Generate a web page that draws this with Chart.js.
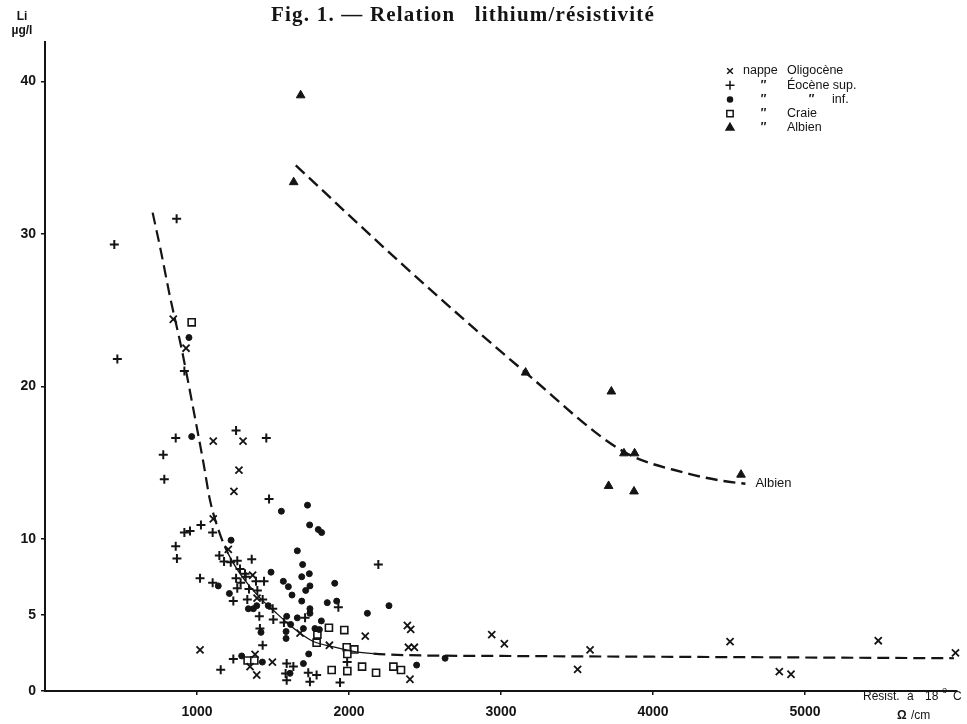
<!DOCTYPE html>
<html>
<head>
<meta charset="utf-8">
<script src="https://cdn.jsdelivr.net/npm/chart.js@4.4.1/dist/chart.umd.min.js"></script>
<style>
  html, body { margin: 0; padding: 0; background: #fff; }
  #wrap { width: 967px; height: 724px; }
</style>
</head>
<body>
<div id="wrap"><canvas id="chart" width="967" height="724"></canvas></div>
<script>
// values: [resistivity (ohm/cm), Li (µg/l)]
const oligocene = [
  [844, 24.4], [928, 22.5], [1107, 16.4], [1303, 16.4], [1276, 14.5], [1243, 13.1],
  [1107, 11.3], [1206, 9.3], [1366, 7.6], [1395, 6.1], [1678, 3.8], [1871, 3.0],
  [2107, 3.6], [1020, 2.7], [1382, 2.4], [1496, 1.9], [1349, 1.6], [1393, 1.05],
  [2384, 4.3], [2406, 4.05], [2391, 2.87], [2430, 2.87], [2401, 0.77], [2939, 3.7],
  [3022, 3.1], [3586, 2.7], [3504, 1.42], [4507, 3.24], [5482, 3.3], [4831, 1.27],
  [4908, 1.1], [5990, 2.5]
];
const eoceneSup = [
  [866, 31.0], [456, 29.3], [476, 21.8], [917, 21.0], [860, 16.6], [1257, 17.1],
  [1456, 16.6], [778, 15.5], [785, 13.9], [1474, 12.6], [917, 10.4], [954, 10.5],
  [1026, 10.9], [1103, 10.4], [860, 9.5], [868, 8.7], [1360, 8.65], [1147, 8.9],
  [1178, 8.5], [1222, 8.45], [1265, 8.55], [1283, 8.0], [1316, 7.7], [2193, 8.3],
  [1020, 7.4], [1103, 7.1], [1257, 7.4], [1287, 7.1], [1265, 6.75], [1320, 7.5],
  [1388, 7.2], [1441, 7.2], [1342, 6.7], [1397, 6.6], [1239, 5.9], [1331, 6.0],
  [1432, 6.0], [1930, 5.5], [1498, 5.4], [1410, 4.9], [1502, 4.7], [1572, 4.5],
  [1711, 4.8], [1414, 4.1], [1432, 3.0], [1239, 2.1], [1156, 1.4], [1590, 1.8],
  [1634, 1.6], [1583, 1.15], [1590, 0.7], [1732, 1.2], [1787, 1.05], [1743, 0.6],
  [1941, 0.55], [1988, 1.9]
];
const eoceneInf = [
  [947, 23.2], [965, 16.7], [1555, 11.8], [1727, 12.2], [1741, 10.9], [1798, 10.6],
  [1820, 10.4], [1224, 9.9], [1660, 9.2], [1695, 8.3], [1487, 7.8], [1739, 7.7],
  [1689, 7.5], [1140, 6.9], [1568, 7.2], [1601, 6.85], [1625, 6.3], [1743, 6.9],
  [1715, 6.6], [1213, 6.4], [1906, 7.07], [1689, 5.9], [1857, 5.8], [1919, 5.9],
  [1338, 5.4], [1371, 5.4], [1393, 5.6], [1469, 5.6], [1743, 5.4], [1743, 5.1],
  [2121, 5.1], [2263, 5.6], [1590, 4.9], [1660, 4.8], [1818, 4.6], [1616, 4.37],
  [1421, 3.85], [1586, 3.9], [1586, 3.45], [1700, 4.1], [1776, 4.1], [1805, 4.03],
  [1735, 2.43], [1294, 2.3], [1430, 1.9], [1700, 1.8], [1612, 1.16], [2445, 1.7],
  [2632, 2.15]
];
const craie = [
  [965, 24.2], [1868, 4.15], [1969, 4.0], [1792, 3.7], [1787, 3.17], [1985, 2.87],
  [2035, 2.73], [1989, 2.43], [1333, 2.0], [1377, 2.0], [1886, 1.38], [1989, 1.31],
  [2086, 1.6], [2178, 1.2], [2292, 1.6], [2342, 1.38]
];
const albien = [
  [1682, 39.1], [1636, 33.4], [3162, 20.9], [3726, 19.66], [3809, 15.6], [3879, 15.6],
  [3708, 13.46], [3875, 13.1], [4579, 14.2]
];
// hand-drawn trend curves
const curveLow = [
  [708, 31.4], [760, 29.0], [822, 25.9], [900, 22.4], [976, 18.5], [1042, 15.0],
  [1086, 12.5], [1151, 10.3], [1206, 9.0], [1283, 7.7], [1349, 6.85], [1425, 6.0],
  [1502, 5.3], [1590, 4.5], [1678, 3.8], [1765, 3.25], [1897, 2.9], [2029, 2.6],
  [2160, 2.45], [2400, 2.35], [3000, 2.3], [4000, 2.25], [5000, 2.2], [5980, 2.15]
];
const curveAlbien = [
  [1650, 34.5], [2340, 28.1], [3162, 20.9], [3809, 15.7], [4220, 14.3], [4454, 13.8],
  [4608, 13.6]
];
const xTicks = [1000, 2000, 3000, 4000, 5000];
const yTicks = [0, 5, 10, 20, 30, 40];

const ink = '#141414';
const sans = '"Liberation Sans", Arial, sans-serif';
const toXY = pts => pts.map(([x, y]) => ({ x, y }));

const legendRows = [
  { style: 'crossRot', radius: 4, texts: [['nappe', 743], ['Oligocène', 787]] },
  { style: 'cross', radius: 4.5, texts: [['\u2033', 760], ['Éocène sup.', 787]] },
  { style: 'circle', radius: 2.5, texts: [['\u2033', 760], ['\u2033', 808], ['inf.', 832]] },
  { style: 'rect', radius: 4.5, texts: [['\u2033', 760], ['Craie', 787]] },
  { style: 'triangle', radius: 4.5, texts: [['\u2033', 760], ['Albien', 787]] },
];

const textPlugin = {
  id: 'figureText',
  afterDraw(chart) {
    const { ctx } = chart;
    const { x, y } = chart.scales;
    ctx.save();
    ctx.fillStyle = ink;
    ctx.strokeStyle = ink;
    ctx.textBaseline = 'middle';

    ctx.font = 'bold 21px "Liberation Serif", serif';
    ctx.textAlign = 'center';
    ctx.letterSpacing = '1.2px';
    ctx.fillText('Fig. 1. \u2014 Relation   lithium/résistivité', 463, 16);
    ctx.letterSpacing = '0px';

    ctx.font = `bold 12px ${sans}`;
    ctx.fillText('Li', 22, 17);
    ctx.fillText('\u00b5g/l', 22, 31);

    ctx.textAlign = 'left';
    ctx.font = `12px ${sans}`;
    ctx.fillText('Résist.', 863, 697);
    ctx.fillText('à', 907, 697);
    ctx.fillText('18', 925, 697);
    ctx.fillText('C', 953, 697);
    ctx.font = `9px ${sans}`;
    ctx.fillText('o', 942, 691);
    ctx.font = `bold 12px ${sans}`;
    ctx.fillText('\u03a9', 897, 716);
    ctx.font = `12px ${sans}`;
    ctx.fillText('/cm', 911, 716);

    // Albien curve label
    ctx.font = `13px ${sans}`;
    ctx.fillText('Albien', x.getPixelForValue(4608) + 10, y.getPixelForValue(13.6));

    // legend
    legendRows.forEach((row, i) => {
      const ly = 71 + i * 14.2;
      ctx.lineWidth = 1.5;
      ctx.fillStyle = row.style === 'rect' ? '#fff' : ink;
      Chart.helpers.drawPoint(ctx, { pointStyle: row.style, radius: row.radius, rotation: 0, borderWidth: 1.5 }, 730, ly);
      ctx.fillStyle = ink;
      row.texts.forEach(([t, tx]) => {
        ctx.font = t === '\u2033' ? `bold italic 12px ${sans}` : `12.5px ${sans}`;
        ctx.fillText(t, tx, ly);
      });
    });
    ctx.restore();
  }
};

const pointSet = (data, style, radius, fill, bw) => ({
  type: 'scatter',
  data: toXY(data),
  pointStyle: style,
  pointRadius: radius,
  pointBackgroundColor: fill,
  pointBorderColor: ink,
  pointBorderWidth: bw,
  clip: false,
});

const solidPart = c => c.p0.parsed.x >= 1200 && c.p1.parsed.x <= 2170;

new Chart(document.getElementById('chart'), {
  type: 'scatter',
  data: {
    datasets: [
      {
        type: 'line',
        data: toXY(curveLow),
        borderColor: ink,
        borderWidth: 2.2,
        pointRadius: 0,
        cubicInterpolationMode: 'monotone',
        segment: {
          borderDash: c => (solidPart(c) ? [] : [12, 6]),
          borderWidth: c => (solidPart(c) ? 1.3 : 2.2),
        },
      },
      {
        type: 'line',
        data: toXY(curveAlbien),
        borderColor: ink,
        borderWidth: 2.4,
        borderDash: [12, 6],
        pointRadius: 0,
        cubicInterpolationMode: 'monotone',
      },
      pointSet(oligocene, 'crossRot', 5, ink, 1.8),
      pointSet(eoceneSup, 'cross', 4.5, ink, 2),
      pointSet(eoceneInf, 'circle', 3, ink, 1),
      pointSet(craie, 'rect', 5, '#fff', 1.6),
      pointSet(albien, 'triangle', 5, ink, 1),
    ],
  },
  options: {
    responsive: false,
    animation: false,
    events: [],
    layout: { padding: { top: 42, right: 10, left: 0, bottom: 0 } },
    plugins: { legend: { display: false }, tooltip: { enabled: false } },
    scales: {
      x: {
        type: 'linear',
        min: 0,
        max: 6000,
        afterBuildTicks: s => { s.ticks = xTicks.map(v => ({ value: v })); },
        afterFit: s => { s.height = 33; },
        border: { display: true, color: ink, width: 2 },
        grid: { drawOnChartArea: false, drawTicks: true, tickLength: 4, color: ink, lineWidth: 1.5 },
        ticks: {
          color: ink,
          padding: 9,
          font: { family: sans, size: 14, weight: 'bold' },
          callback: v => String(v),
        },
      },
      y: {
        type: 'linear',
        min: 0,
        max: 42.6,
        afterBuildTicks: s => { s.ticks = yTicks.map(v => ({ value: v })); },
        afterFit: s => { s.width = 45; },
        border: { display: true, color: ink, width: 2 },
        grid: { drawOnChartArea: false, drawTicks: true, tickLength: 4, color: ink, lineWidth: 1.5 },
        ticks: {
          color: ink,
          padding: 5,
          font: { family: sans, size: 14, weight: 'bold' },
          callback: v => String(v),
        },
      },
    },
  },
  plugins: [textPlugin],
});
</script>
</body>
</html>
